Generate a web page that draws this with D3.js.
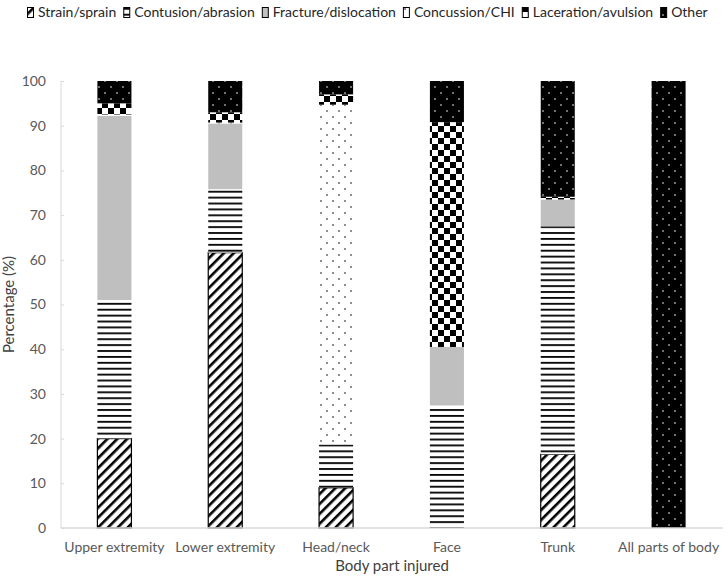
<!DOCTYPE html>
<html>
<head>
<meta charset="utf-8">
<script src="https://cdn.jsdelivr.net/npm/d3@7"></script>
<style>
  body { margin: 0; background: #fff; }
  text { font-family: Lato, "Open Sans", sans-serif; }
</style>
</head>
<body>
<script>
// body parts and injury shares (%)
let categories = ["Upper extremity", "Lower extremity", "Head/neck", "Face", "Trunk", "All parts of body"]
let injuryTypes = ["Strain/sprain", "Contusion/abrasion", "Fracture/dislocation", "Concussion/CHI", "Laceration/avulsion", "Other"]

let strain     = [20,   61.6, 9,   0,    16.5, 0]
let contusion  = [31,   14.2, 9.7, 27.5, 51,   0]
let fracture   = [41.2, 14.7, 0,   13,   6,    0]
let concussion = [0.3,  0.2,  76,  0,    0,    0]
let laceration = [2.5,  2.3,  2.3, 50.3, 0.6,  0]
let other      = [5,    7,    3,   9.2,  25.9, 100]

let yTicks = [0, 10, 20, 30, 40, 50, 60, 70, 80, 90, 100]

let width = 728
let height = 577
let plotLeft = 61, plotRight = 723, plotTop = 81, plotBottom = 528

let rows = categories.map((c, i) => ({
    cat: c,
    "Strain/sprain": strain[i],
    "Contusion/abrasion": contusion[i],
    "Fracture/dislocation": fracture[i],
    "Concussion/CHI": concussion[i],
    "Laceration/avulsion": laceration[i],
    "Other": other[i]
}))

let svg = d3.select("body").append("svg")
    .attr("width", width)
    .attr("height", height)

// fill patterns
let defs = svg.append("defs")

let pStrain = defs.append("pattern").attr("id", "p0")
    .attr("patternUnits", "userSpaceOnUse").attr("width", 7).attr("height", 7)
    .attr("patternTransform", "rotate(45)")
pStrain.append("rect").attr("width", 7).attr("height", 7).attr("fill", "#fff")
pStrain.append("rect").attr("width", 2.6).attr("height", 7).attr("fill", "#000")

let pCont = defs.append("pattern").attr("id", "p1")
    .attr("patternUnits", "userSpaceOnUse").attr("width", 6).attr("height", 5.9)
pCont.append("rect").attr("width", 6).attr("height", 5.9).attr("fill", "#fff")
pCont.append("rect").attr("y", 2).attr("width", 6).attr("height", 1.8).attr("fill", "#000")

let pConc = defs.append("pattern").attr("id", "p3")
    .attr("patternUnits", "userSpaceOnUse").attr("width", 12).attr("height", 12)
pConc.append("rect").attr("width", 12).attr("height", 12).attr("fill", "#fff")
pConc.append("circle").attr("cx", 3).attr("cy", 3).attr("r", 0.8).attr("fill", "#000")
pConc.append("circle").attr("cx", 9).attr("cy", 9).attr("r", 0.8).attr("fill", "#000")

let pLac = defs.append("pattern").attr("id", "p4")
    .attr("patternUnits", "userSpaceOnUse").attr("width", 12).attr("height", 12)
pLac.append("rect").attr("width", 12).attr("height", 12).attr("fill", "#fff")
pLac.append("rect").attr("width", 6).attr("height", 6).attr("fill", "#000")
pLac.append("rect").attr("x", 6).attr("y", 6).attr("width", 6).attr("height", 6).attr("fill", "#000")

let pOther = defs.append("pattern").attr("id", "p5")
    .attr("patternUnits", "userSpaceOnUse").attr("width", 12).attr("height", 12)
pOther.append("rect").attr("width", 12).attr("height", 12).attr("fill", "#000")
pOther.append("circle").attr("cx", 3).attr("cy", 3).attr("r", 0.8).attr("fill", "#fff")
pOther.append("circle").attr("cx", 9).attr("cy", 9).attr("r", 0.8).attr("fill", "#fff")

let fills = ["url(#p0)", "url(#p1)", "#bfbfbf", "url(#p3)", "url(#p4)", "url(#p5)"]

let xScale = d3.scaleBand()
    .domain(categories)
    .range([59, 724])
    .paddingInner(0.693)
    .paddingOuter(0.3465)

let yScale = d3.scaleLinear()
    .domain([0, 100])
    .range([plotBottom, plotTop])

// y axis: light line with inward ticks
let yAxis = d3.axisRight(yScale).tickValues(yTicks).tickSize(3).tickFormat("")
let yg = svg.append("g")
    .attr("transform", "translate(" + plotLeft + ",0)")
    .call(yAxis)
yg.select(".domain").attr("stroke", "#d9d9d9").attr("d", "M0," + plotTop + "V" + plotBottom)
yg.selectAll(".tick line").attr("stroke", "#d9d9d9")

svg.append("g").selectAll("text")
    .data(yTicks)
    .enter()
    .append("text")
    .attr("x", 46)
    .attr("y", (d) => yScale(d))
    .attr("dy", "0.35em")
    .attr("text-anchor", "end")
    .attr("font-size", 14)
    .attr("fill", "#595959")
    .text((d) => d)

// stacked bars
let series = d3.stack().keys(injuryTypes)(rows)

svg.append("g").selectAll("g")
    .data(series)
    .enter()
    .append("g")
    .attr("fill", (d, i) => fills[i])
    .attr("stroke", (d, i) => i == 0 ? "#000" : "none")
    .attr("stroke-width", 1.2)
    .selectAll("rect")
    .data((d) => d.filter((v) => v[1] - v[0] > 0))
    .enter()
    .append("rect")
    .attr("x", (d) => xScale(d.data.cat))
    .attr("y", (d) => yScale(d[1]))
    .attr("width", xScale.bandwidth())
    .attr("height", (d) => yScale(d[0]) - yScale(d[1]))

// baseline
svg.append("line")
    .attr("x1", plotLeft).attr("x2", plotRight)
    .attr("y1", yScale(0)).attr("y2", yScale(0))
    .attr("stroke", "#d9d9d9")
    .attr("stroke-width", 1.5)

// category labels
let xAxis = d3.axisBottom(xScale).tickSize(0).tickPadding(14)
let xg = svg.append("g")
    .attr("transform", "translate(0," + plotBottom + ")")
    .call(xAxis)
xg.select(".domain").remove()
xg.selectAll("text")
    .attr("font-size", 14)
    .attr("fill", "#595959")
    .style("font-family", "Lato, sans-serif")

// axis titles
svg.append("text")
    .attr("x", (plotLeft + plotRight) / 2)
    .attr("y", 571)
    .attr("text-anchor", "middle")
    .attr("font-size", 15)
    .attr("fill", "#404040")
    .text("Body part injured")

svg.append("text")
    .attr("x", -(plotTop + plotBottom) / 2)
    .attr("y", 14)
    .attr("transform", "rotate(-90)")
    .attr("text-anchor", "middle")
    .attr("font-size", 15)
    .attr("fill", "#404040")
    .text("Percentage (%)")

// legend
let legend = svg.append("g")
let lx = 27
injuryTypes.forEach((name, i) => {
    legend.append("rect")
        .attr("x", lx + 0.5).attr("y", 7.5)
        .attr("width", 6).attr("height", 10)
        .attr("fill", fills[i])
        .attr("stroke", "#000")
        .attr("stroke-width", 1)
    let t = legend.append("text")
        .attr("x", lx + 11)
        .attr("y", 17)
        .attr("font-size", 14)
        .attr("fill", "#262626")
        .text(name)
    lx += 11 + t.node().getComputedTextLength() + 7
})
</script>
</body>
</html>
